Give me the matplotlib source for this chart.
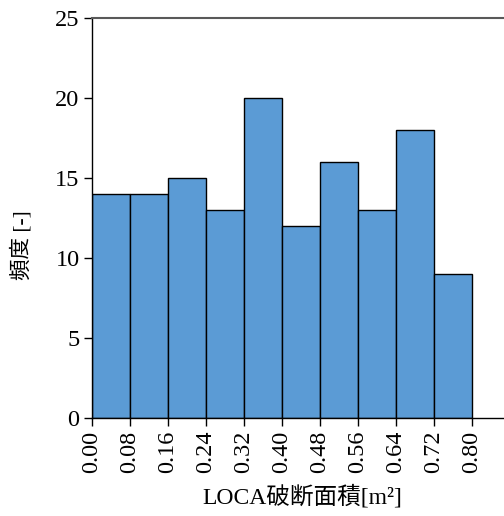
import matplotlib
matplotlib.use("Agg")
import matplotlib.pyplot as plt
import numpy as np

# Histogram of LOCA break areas
bin_edges = [0.00, 0.08, 0.16, 0.24, 0.32, 0.40, 0.48, 0.56, 0.64, 0.72, 0.80]
counts = [14, 14, 15, 13, 20, 12, 16, 13, 18, 9]
tick_labels = ["0.00", "0.08", "0.16", "0.24", "0.32", "0.40",
               "0.48", "0.56", "0.64", "0.72", "0.80"]
y_ticks = [0, 5, 10, 15, 20, 25]

fonts = ["Liberation Serif", "Noto Sans CJK JP"]
plt.rcParams["font.family"] = fonts

W, H = 504, 516
fig = plt.figure(figsize=(W / 100, H / 100), dpi=100)
ax = fig.add_axes([92 / W, 1 - 418 / H, (504 - 92) / W, 400 / H])

lefts = np.array(bin_edges[:-1])
widths = np.diff(bin_edges)
ax.bar(lefts, counts, width=widths, align="edge", color="#5B9BD5",
       edgecolor="black", linewidth=1.0, zorder=2)

ax.set_xlim(0, (504 - 92) / 475)
ax.set_ylim(0, 25)
ax.set_xticks(bin_edges)
ax.set_xticklabels(tick_labels, rotation=90, fontsize=17.5)
ax.set_yticks(y_ticks)
ax.set_yticklabels([str(v) for v in y_ticks], fontsize=17.5)
ax.tick_params(axis="both", direction="out", length=6, width=1, color="black", pad=3)

ax.spines["right"].set_visible(False)
ax.spines["top"].set_color("#595959")
ax.spines["top"].set_linewidth(1.5)
ax.spines["left"].set_linewidth(1)
ax.spines["bottom"].set_linewidth(1)

ax.set_xlabel("LOCA破断面積[m²]", fontsize=17)
ax.xaxis.set_label_coords((302 - 92) / (504 - 92), -(497 - 418) / 400)
ax.xaxis.label.set_va("center")

ax.set_ylabel("頻度 [-]", fontsize=15.5)
ax.yaxis.set_label_coords(-(92 - 22) / (504 - 92), (418 - 245) / 400)
ax.yaxis.label.set_va("center")

fig.savefig("out.png", dpi=100)
